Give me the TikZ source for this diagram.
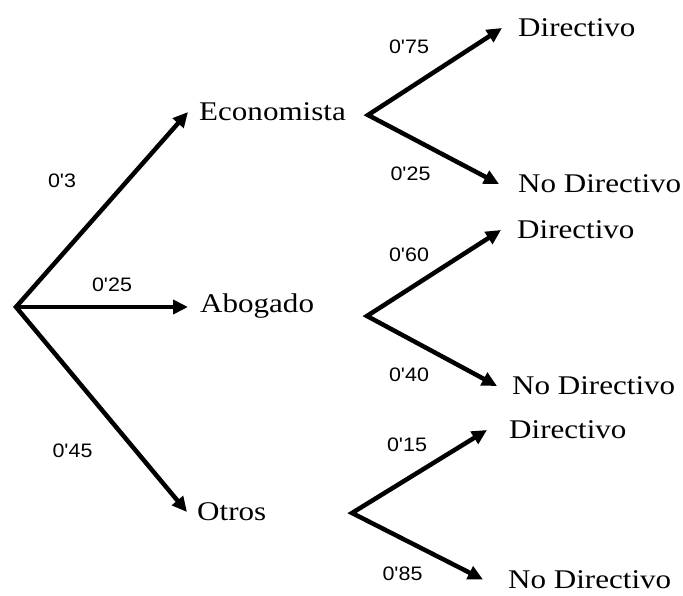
\documentclass[tikz,border=0pt]{standalone}
\usepackage{fontspec}
\usepackage{graphicx}
\setmainfont{Liberation Serif}
\newfontfamily\probfont{Liberation Sans}
\usetikzlibrary{arrows.meta}
% slightly widened lettering
\newcommand\hstretch[1]{\scalebox{1.15}[1]{#1}}
\newcommand\pstretch[1]{\scalebox{1.1}[1]{#1}}
\begin{document}
\begin{tikzpicture}[x=1pt,y=-1pt,
  tip/.tip={Triangle[length=15pt,width=14pt]},
  branch/.style={line width=4.5pt, line join=miter, tip-tip},
  single/.style={line width=4.5pt, -tip},
  outcome/.style={anchor=west, inner ysep=0pt, text height=17.9pt, text depth=0pt,
    font=\fontsize{27}{31}\selectfont},
  prob/.style={inner sep=0pt, text height=14pt, text depth=0pt,
    font=\probfont\fontsize{19.5}{22}\selectfont}]
\useasboundingbox (0,0) rectangle (683,595);

% first stage
\coordinate (r) at (16,307);
\node[outcome, inner xsep=11pt] (eco) at (188,112) {\hstretch{Economista}};
\node[outcome, inner xsep=12pt] (abo) at (188,303.5) {\hstretch{Abogado}};
\node[outcome, inner xsep=10pt] (otr) at (187,512) {\hstretch{Otros}};

\draw[branch] (eco.west) -- (r) -- (otr.west);
\draw[single] (r) -- ([yshift=-3.5pt]abo.west);

\node[prob] (p1) at (62,180) {\pstretch{0\textquotesingle3}};
\node[prob] (p2) at (112,284) {\pstretch{0\textquotesingle25}};
\node[prob] (p3) at (72.5,450) {\pstretch{0\textquotesingle45}};

% second stage: Economista
\coordinate (v1) at (368,115);
\node[outcome, inner xsep=16pt] (d1) at (502,28) {\hstretch{Directivo}};
\node[outcome, inner xsep=19pt] (n1) at (499,184) {\hstretch{No Directivo}};
\draw[branch] (d1.west) -- (v1) -- (n1.west);
\node[prob] (q1) at (409,46.5) {\pstretch{0\textquotesingle75}};
\node[prob] (q2) at (410.5,173.5) {\pstretch{0\textquotesingle25}};

% second stage: Abogado
\coordinate (v2) at (367,316);
\node[outcome, inner xsep=16pt] (d2) at (501,230) {\hstretch{Directivo}};
\node[outcome, inner xsep=15pt] (n2) at (497,386) {\hstretch{No Directivo}};
\draw[branch] (d2.west) -- (v2) -- (n2.west);
\node[prob] (q3) at (409,254.5) {\pstretch{0\textquotesingle60}};
\node[prob] (q4) at (409,374.5) {\pstretch{0\textquotesingle40}};

% second stage: Otros
\coordinate (v3) at (352,513);
\node[outcome, inner xsep=22pt] (d3) at (487,430) {\hstretch{Directivo}};
\node[outcome, inner xsep=25pt] (n3) at (483,579.5) {\hstretch{No Directivo}};
\draw[branch] (d3.west) -- (v3) -- (n3.west);
\node[prob] (q5) at (407,444.5) {\pstretch{0\textquotesingle15}};
\node[prob] (q6) at (402.5,573.5) {\pstretch{0\textquotesingle85}};
\end{tikzpicture}
\end{document}
